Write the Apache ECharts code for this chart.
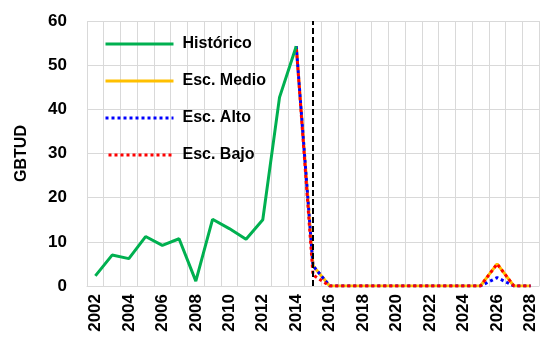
<!DOCTYPE html>
<html>
<head>
<meta charset="utf-8">
<script src="https://cdn.jsdelivr.net/npm/echarts@6/dist/echarts.min.js"></script>
<style>
  html, body { margin: 0; padding: 0; background: #fff; }
  #chart { width: 542px; height: 341px; }
</style>
</head>
<body>
<div id="chart"></div>
<script>
var years = ['2002', '2003', '2004', '2005', '2006', '2007', '2008', '2009', '2010', '2011', '2012', '2013', '2014',
    '2015', '2016', '2017', '2018', '2019', '2020', '2021', '2022', '2023', '2024', '2025', '2026', '2027', '2028'];
var historico = [2.3, 7.0, 6.2, 11.2, 9.2, 10.7, 1.1, 15.1, 13.0, 10.6, 15.0, 42.7, 54.3];
var escMedio = [null, null, null, null, null, null, null, null, null, null, null, null, 54.3,
    4.6, 0, 0, 0, 0, 0, 0, 0, 0, 0, 0, 5.0, 0, 0];
var escAlto = [null, null, null, null, null, null, null, null, null, null, null, null, 54.3,
    4.6, 0, 0, 0, 0, 0, 0, 0, 0, 0, 0, 1.9, 0, 0];
var escBajo = [null, null, null, null, null, null, null, null, null, null, null, null, 54.3,
    2.5, 0, 0, 0, 0, 0, 0, 0, 0, 0, 0, 5.0, 0, 0];
var yearCut = '2015';

var chart = echarts.init(document.getElementById('chart'));
var font = 'Liberation Sans, Arial, sans-serif';
var gridColor = '#d9d9d9';

chart.setOption({
    animation: false,
    grid: {
        left: 87,
        right: 3,
        top: 21,
        bottom: 55
    },
    legend: {
        orient: 'vertical',
        left: 99,
        top: 31,
        itemWidth: 68,
        itemHeight: 14,
        itemGap: 21,
        itemStyle: { opacity: 0 },
        lineStyle: { width: 3 },
        textStyle: {
            fontFamily: font,
            fontWeight: 'bold',
            fontSize: 16,
            color: '#000',
            padding: [0, 0, 0, 4]
        },
        data: ['Histórico', 'Esc. Medio', 'Esc. Alto', 'Esc. Bajo']
    },
    xAxis: {
        type: 'category',
        data: years,
        boundaryGap: true,
        axisLine: { lineStyle: { color: gridColor } },
        axisTick: { show: false },
        splitLine: {
            show: true,
            interval: 0,
            lineStyle: { color: gridColor, width: 1 }
        },
        axisLabel: {
            interval: 1,
            rotate: 90,
            margin: 8,
            fontFamily: font,
            fontWeight: 'bold',
            fontSize: 17,
            color: '#000'
        }
    },
    yAxis: {
        type: 'value',
        min: 0,
        max: 60,
        interval: 10,
        name: 'GBTUD',
        nameLocation: 'middle',
        nameGap: 57,
        nameTextStyle: {
            fontFamily: font,
            fontWeight: 'bold',
            fontSize: 16,
            color: '#000'
        },
        axisLine: { show: false },
        axisTick: { show: false },
        splitLine: { lineStyle: { color: gridColor, width: 1 } },
        axisLabel: {
            margin: 20,
            fontFamily: font,
            fontWeight: 'bold',
            fontSize: 17,
            color: '#000'
        }
    },
    series: [
        {
            name: 'Histórico',
            type: 'line',
            data: historico,
            symbol: 'none',
            lineStyle: { color: '#00b050', width: 3 },
            itemStyle: { color: '#00b050' },
            z: 5,
            markLine: {
                silent: true,
                symbol: 'none',
                label: { show: false },
                lineStyle: { color: '#000', type: [6, 3], width: 2 },
                data: [{ xAxis: yearCut }]
            }
        },
        {
            name: 'Esc. Medio',
            type: 'line',
            data: escMedio,
            symbol: 'none',
            lineStyle: { color: '#ffc000', width: 3 },
            itemStyle: { color: '#ffc000' },
            z: 2
        },
        {
            name: 'Esc. Alto',
            type: 'line',
            data: escAlto,
            symbol: 'none',
            lineStyle: { color: '#0000ff', width: 3, type: [3, 3] },
            itemStyle: { color: '#0000ff' },
            z: 3
        },
        {
            name: 'Esc. Bajo',
            type: 'line',
            data: escBajo,
            symbol: 'none',
            lineStyle: { color: '#ff0000', width: 3, type: [3, 3], dashOffset: 3 },
            itemStyle: { color: '#ff0000' },
            z: 4
        }
    ]
});
</script>
</body>
</html>
